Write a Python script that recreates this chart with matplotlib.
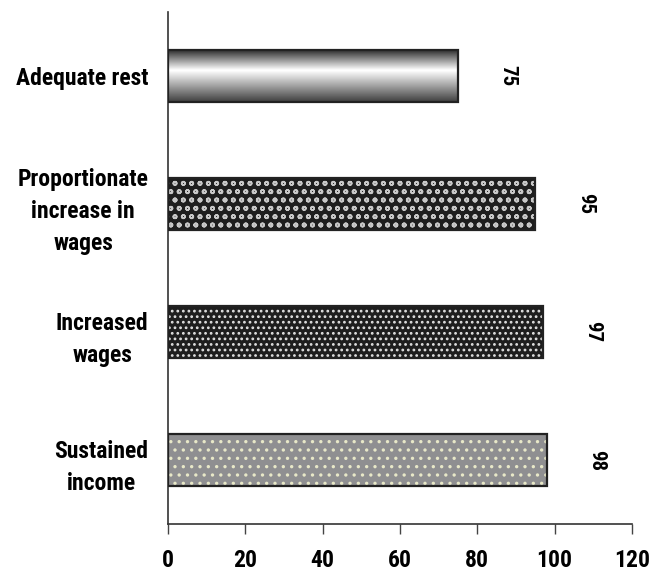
import numpy as np
import matplotlib
matplotlib.use('Agg')
import matplotlib.pyplot as plt

# data
categories = ['Adequate rest', 'Proportionate\nincrease in\nwages', 'Increased\nwages', 'Sustained\nincome']
values = [75, 95, 97, 98]
xticks = [0, 20, 40, 60, 80, 100, 120]

plt.rcParams['font.family'] = ['Roboto Condensed', 'DejaVu Sans']
plt.rcParams['font.weight'] = 'bold'
plt.rcParams['hatch.linewidth'] = 1.2

fig = plt.figure(figsize=(6.58, 5.76), dpi=100)
ax = fig.add_axes([0.2553, 0.0903, 0.7052, 0.8887])

ypos = np.arange(len(categories))
h = 0.41

faces = ['white', '#1e1e1e', '#1e1e1e', '#8f8f91']
hatch_cols = ['white', '#c8c8c8', '#e0e0e0', '#e8e8c8']
hatches = [None, 'oo', '...', '..']

bars = []
for i, v in enumerate(values):
    b = ax.barh(ypos[i], v, height=h, color=faces[i], edgecolor=hatch_cols[i],
                hatch=hatches[i], linewidth=0, zorder=2)[0]
    bars.append(b)
    ax.barh(ypos[i], v, height=h, color='none', edgecolor='#222222',
            linewidth=1.6, zorder=4)

# shaded "cylinder" look for the first bar
g = np.concatenate([np.linspace(0.15, 1.0, 40), np.linspace(1.0, 0.25, 60)])
im = ax.imshow(g[:, None], cmap='gray', vmin=0, vmax=1, aspect='auto',
               extent=[0, values[0], ypos[0] + h / 2, ypos[0] - h / 2], zorder=3)
im.set_clip_path(bars[0])

for i, v in enumerate(values):
    ax.annotate(str(v), (v, ypos[i]), xytext=(36, 0), textcoords='offset points',
                rotation=270, ha='center', va='center', fontsize=15, fontweight='bold')

ax.set_xlim(0, 120)
ax.set_ylim(len(categories) - 0.5, -0.5)
ax.set_xticks(xticks)
ax.set_yticks(ypos)
ax.set_yticklabels(categories, fontsize=17, fontweight='bold', multialignment='center',
                   linespacing=1.5)
ax.tick_params(axis='y', length=0, pad=14)
ax.tick_params(axis='x', length=7, width=1, direction='out', labelsize=17, pad=11, color='#444444')
for lab in ax.get_xticklabels():
    lab.set_fontweight('bold')

for s in ['top', 'right']:
    ax.spines[s].set_visible(False)
for s in ['left', 'bottom']:
    ax.spines[s].set_color('#333333')
    ax.spines[s].set_linewidth(1.2)

fig.savefig('out.png', dpi=100)
